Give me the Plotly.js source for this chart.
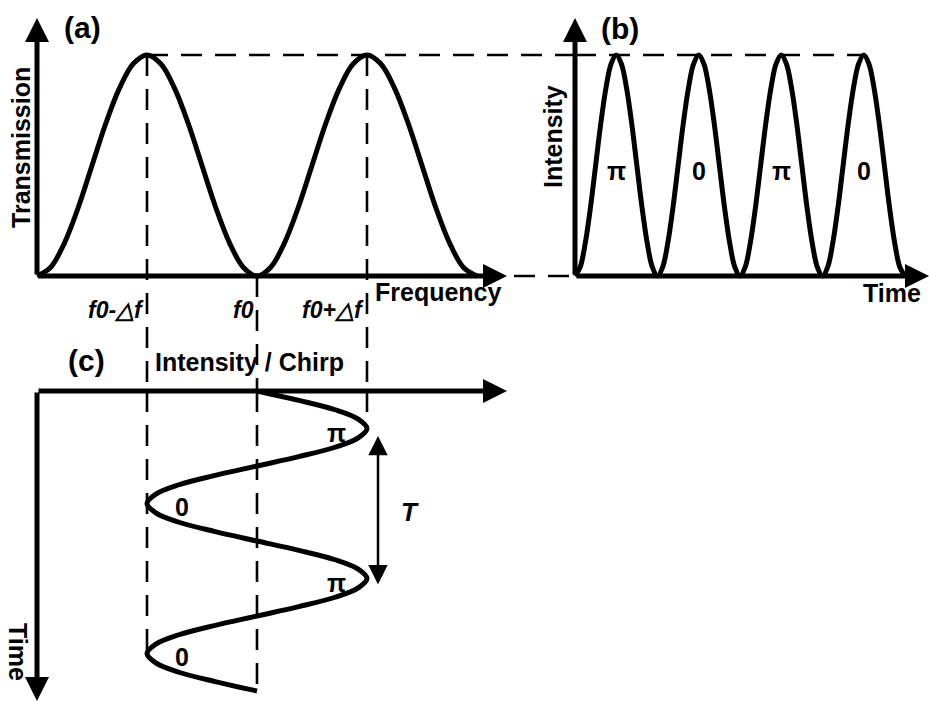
<!DOCTYPE html>
<html>
<head>
<meta charset="utf-8">
<script src="https://cdn.plot.ly/plotly-3.0.1.min.js"></script>
<style>html,body{margin:0;padding:0;background:#fff;}#chart{width:929px;height:702px;}</style>
</head>
<body>
<div id="chart"></div>
<script>
// ---- data ----
// (a) transmission vs frequency (units of delta f, f0 = 0)
const freq = [-2, -1.875, -1.75, -1.625, -1.5, -1.375, -1.25, -1.125, -1, -0.875, -0.75, -0.625, -0.5, -0.375, -0.25, -0.125,
  0, 0.125, 0.25, 0.375, 0.5, 0.625, 0.75, 0.875, 1, 1.125, 1.25, 1.375, 1.5, 1.625, 1.75, 1.875, 2];
const transmission = [0, 0.04, 0.15, 0.31, 0.5, 0.69, 0.85, 0.96, 1, 0.96, 0.85, 0.69, 0.5, 0.31, 0.15, 0.04,
  0, 0.04, 0.15, 0.31, 0.5, 0.69, 0.85, 0.96, 1, 0.96, 0.85, 0.69, 0.5, 0.31, 0.15, 0.04, 0];
const freqTickValues = [-1, 0, 1];
const freqTickLabels = ['f0-\u25B3f', 'f0', 'f0+\u25B3f'];

// (b) intensity vs time (time in pulse periods)
const timeB = [0, 0.0625, 0.125, 0.1875, 0.25, 0.3125, 0.375, 0.4375, 0.5, 0.5625, 0.625, 0.6875, 0.75, 0.8125, 0.875, 0.9375,
  1, 1.0625, 1.125, 1.1875, 1.25, 1.3125, 1.375, 1.4375, 1.5, 1.5625, 1.625, 1.6875, 1.75, 1.8125, 1.875, 1.9375,
  2, 2.0625, 2.125, 2.1875, 2.25, 2.3125, 2.375, 2.4375, 2.5, 2.5625, 2.625, 2.6875, 2.75, 2.8125, 2.875, 2.9375,
  3, 3.0625, 3.125, 3.1875, 3.25, 3.3125, 3.375, 3.4375, 3.5, 3.5625, 3.625, 3.6875, 3.75, 3.8125, 3.875, 3.9375, 4];
const intensityB = [0, 0.04, 0.15, 0.31, 0.5, 0.69, 0.85, 0.96, 1, 0.96, 0.85, 0.69, 0.5, 0.31, 0.15, 0.04,
  0, 0.04, 0.15, 0.31, 0.5, 0.69, 0.85, 0.96, 1, 0.96, 0.85, 0.69, 0.5, 0.31, 0.15, 0.04,
  0, 0.04, 0.15, 0.31, 0.5, 0.69, 0.85, 0.96, 1, 0.96, 0.85, 0.69, 0.5, 0.31, 0.15, 0.04,
  0, 0.04, 0.15, 0.31, 0.5, 0.69, 0.85, 0.96, 1, 0.96, 0.85, 0.69, 0.5, 0.31, 0.15, 0.04, 0];
const phaseTimesB = [0.5, 1.5, 2.5, 3.5];
const phaseLabelsB = ['\u03C0', '0', '\u03C0', '0'];

// (c) chirp vs time (time in units of T)
const timeC = [0, 0.0625, 0.125, 0.1875, 0.25, 0.3125, 0.375, 0.4375, 0.5, 0.5625, 0.625, 0.6875, 0.75, 0.8125, 0.875, 0.9375,
  1, 1.0625, 1.125, 1.1875, 1.25, 1.3125, 1.375, 1.4375, 1.5, 1.5625, 1.625, 1.6875, 1.75, 1.8125, 1.875, 1.9375, 2];
const chirpC = [0, 0.38, 0.71, 0.92, 1, 0.92, 0.71, 0.38, 0, -0.38, -0.71, -0.92, -1, -0.92, -0.71, -0.38,
  0, 0.38, 0.71, 0.92, 1, 0.92, 0.71, 0.38, 0, -0.38, -0.71, -0.92, -1, -0.92, -0.71, -0.38, 0];
const phaseTimesC = [0.28, 0.773, 1.28, 1.773];
const phaseChirpC = [0.72, -0.68, 0.72, -0.68];
const phaseLabelsC = ['\u03C0', '0', '\u03C0', '0'];
const periodStart = 0.29, periodEnd = 1.29;

// ---- styling ----
const FONT = 'Liberation Sans, Arial, sans-serif';
const BLACK = '#000';
const curveLine = {color: BLACK, width: 5, shape: 'spline', smoothing: 1};
const dashStyle = {color: BLACK, width: 2.6, dash: '21px,13px'};

const traces = [
  {x: freq, y: transmission, xaxis: 'x', yaxis: 'y', mode: 'lines', line: curveLine, hoverinfo: 'skip'},
  {x: timeB, y: intensityB, xaxis: 'x2', yaxis: 'y2', mode: 'lines', line: curveLine, hoverinfo: 'skip'},
  {x: chirpC, y: timeC, xaxis: 'x3', yaxis: 'y3', mode: 'lines', line: curveLine, hoverinfo: 'skip'}
];

const hiddenAxis = {visible: false, fixedrange: true};
const xRangeA = [-2.3364, 2.8909];
const yRangeA = [-0.5204, 1.2489];

function axisArrow(xref, yref, x0, y0, x1, y1) {
  return {xref: xref, yref: yref, axref: xref, ayref: yref, x: x1, y: y1, ax: x0, ay: y0,
    text: '', showarrow: true, arrowhead: 2, arrowsize: 0.96, arrowwidth: 5, arrowcolor: BLACK, standoff: 0};
}
function label(text, x, y, size, extra) {
  return Object.assign({xref: 'paper', yref: 'paper', x: x, y: y, text: text, showarrow: false,
    xanchor: 'center', yanchor: 'middle', font: {family: FONT, size: size, color: BLACK, weight: 'bold'}}, extra || {});
}

const annotations = [
  // axes with arrowheads
  axisArrow('x', 'y', -2, 0, 2.2727, 0),
  axisArrow('x', 'y', -2, 0, -2, 1.1674),
  axisArrow('x2', 'y2', 0, 0, 4.2909, 0),
  axisArrow('x2', 'y2', 0, 0, 0, 1.1674),
  axisArrow('x3', 'y3', -2, 0, 2.2727, 0),
  axisArrow('x3', 'y3', -2, 0, -2, 2.0667),
  // period arrow T
  {xref: 'x3', yref: 'y3', axref: 'x3', ayref: 'y3', x: 1.1, y: periodEnd, ax: 1.1, ay: periodStart,
    text: '', showarrow: true, arrowside: 'end+start', arrowhead: 2, startarrowhead: 2,
    arrowsize: 1.55, startarrowsize: 1.55, arrowwidth: 2.5, arrowcolor: BLACK},
  {xref: 'x3', yref: 'y3', x: 1.39, y: 0.807, text: 'T', showarrow: false,
    font: {family: FONT, size: 26, color: BLACK, style: 'italic', weight: 'bold'}},
  // panel labels and axis titles
  label('(a)', 0.0893, 0.9615, 30),
  label('(b)', 0.6674, 0.9601, 30),
  label('(c)', 0.0936, 0.4858, 30),
  label('Transmission', 0.0226, 0.7906, 25, {textangle: -90}),
  label('Frequency', 0.4015, 0.584, 25, {xanchor: 'left'}),
  label('Intensity', 0.5953, 0.8048, 25, {textangle: -90}),
  label('Time', 0.9602, 0.5826, 25),
  label('Intensity / Chirp', 0.2691, 0.4843, 25),
  label('Time', 0.0194, 0.0712, 25, {textangle: 90})
];

freqTickValues.forEach(function (v, i) {
  annotations.push({xref: 'x', yref: 'y', x: v, y: -0.154, text: freqTickLabels[i], showarrow: false,
    xanchor: 'right', yanchor: 'middle', xshift: -1,
    font: {family: FONT, size: 23, color: BLACK, weight: 'bold', style: 'italic'}});
});
phaseTimesB.forEach(function (t, i) {
  annotations.push({xref: 'x2', yref: 'y2', x: t, y: 0.475, text: phaseLabelsB[i], showarrow: false,
    font: {family: FONT, size: 25, color: BLACK, weight: 'bold'}});
});
phaseTimesC.forEach(function (t, i) {
  annotations.push({xref: 'x3', yref: 'y3', x: phaseChirpC[i], y: t, text: phaseLabelsC[i], showarrow: false,
    font: {family: FONT, size: 25, color: BLACK, weight: 'bold'}});
});

const shapes = [
  // horizontal guide at peak level: through (a) then across (b)
  {type: 'line', xref: 'x', yref: 'y', x0: -1, x1: xRangeA[1], y0: 1, y1: 1, line: dashStyle},
  {type: 'line', xref: 'x2', yref: 'y2', x0: 0, x1: phaseTimesB[3], y0: 1, y1: 1, line: dashStyle},
  // baseline guide between (a) and (b)
  {type: 'line', xref: 'x', yref: 'y', x0: 2.336, x1: xRangeA[1], y0: 0, y1: 0, line: dashStyle},
  // vertical guides in (a)
  {type: 'line', xref: 'x', yref: 'y', x0: -1, x1: -1, y0: 1, y1: yRangeA[0], line: dashStyle},
  {type: 'line', xref: 'x', yref: 'y', x0: 0, x1: 0, y0: 0, y1: yRangeA[0], line: dashStyle},
  {type: 'line', xref: 'x', yref: 'y', x0: 1, x1: 1, y0: 1, y1: yRangeA[0], line: dashStyle},
  // vertical guides continuing in (c)
  {type: 'line', xref: 'x3', yref: 'y3', x0: -1, x1: -1, y0: 0, y1: 1.75, line: dashStyle},
  {type: 'line', xref: 'x3', yref: 'y3', x0: 0, x1: 0, y0: 0, y1: 2.02, line: dashStyle},
  {type: 'line', xref: 'x3', yref: 'y3', x0: 1, x1: 1, y0: 0, y1: 0.25, line: dashStyle}
];

const layout = {
  width: 929, height: 702,
  margin: {l: 0, r: 0, t: 0, b: 0, pad: 0},
  paper_bgcolor: '#fff', plot_bgcolor: 'rgba(0,0,0,0)',
  showlegend: false,
  font: {family: FONT, color: BLACK},
  xaxis: Object.assign({}, hiddenAxis, {domain: [0, 0.61895], range: xRangeA}),
  yaxis: Object.assign({}, hiddenAxis, {domain: [0.44302, 1], range: yRangeA}),
  xaxis2: Object.assign({}, hiddenAxis, {domain: [0.6, 1], range: [-0.2133, 4.2909], anchor: 'y2'}),
  yaxis2: Object.assign({}, hiddenAxis, {domain: [0.44302, 1], range: yRangeA, anchor: 'x2'}),
  xaxis3: Object.assign({}, hiddenAxis, {domain: [0, 0.61895], range: xRangeA, anchor: 'y3'}),
  yaxis3: Object.assign({}, hiddenAxis, {domain: [0, 0.44302], range: [2.0733, 0], anchor: 'x3'}),
  shapes: shapes,
  annotations: annotations
};

Plotly.newPlot('chart', traces, layout, {displayModeBar: false, staticPlot: true});
</script>
</body>
</html>
